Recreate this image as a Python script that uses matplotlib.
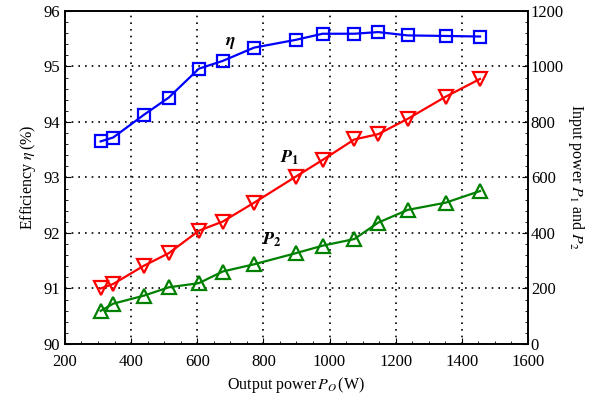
import matplotlib
matplotlib.use('Agg')
import matplotlib.pyplot as plt
from matplotlib.ticker import MultipleLocator

plt.rcParams['font.family'] = ['Liberation Serif', 'DejaVu Serif']
plt.rcParams['mathtext.fontset'] = 'stix'

# output power (W)
p_out = [308, 346, 439, 514, 605, 677, 772, 898, 979, 1075, 1147, 1236, 1351, 1455]
# efficiency (%)
eta = [93.65, 93.72, 94.13, 94.44, 94.96, 95.10, 95.34, 95.48, 95.59, 95.59, 95.62, 95.56, 95.55, 95.54]
# input powers (W)
p1 = [200, 216, 282, 327, 408, 441, 509, 603, 663, 737, 756, 811, 891, 955]
p2 = [119, 145, 174, 204, 219, 261, 287, 327, 354, 378, 437, 483, 509, 551]

fig = plt.figure(figsize=(6.01, 4.07), dpi=100)
ax1 = fig.add_axes([0.108, 0.155, 0.7705, 0.818])
ax2 = ax1.twinx()

ax1.plot(p_out, eta, color='#0000ff', lw=1.6, marker='s', ms=9, mfc='none', mew=1.6)
ax2.plot(p_out, p1, color='#ff0000', lw=1.6, marker='v', ms=10, mfc='none', mew=1.6)
ax2.plot(p_out, p2, color='#008000', lw=1.6, marker='^', ms=10, mfc='none', mew=1.6)

ax1.set_xlim(200, 1600)
ax1.set_ylim(90, 96)
ax2.set_ylim(0, 1200)
ax1.xaxis.set_major_locator(MultipleLocator(200))
ax1.xaxis.set_minor_locator(MultipleLocator(50))
ax1.yaxis.set_major_locator(MultipleLocator(1))
ax1.yaxis.set_minor_locator(MultipleLocator(0.2))
ax2.yaxis.set_major_locator(MultipleLocator(200))
ax2.yaxis.set_minor_locator(MultipleLocator(40))

ax1.grid(True, which='major', color='black', linestyle=(0, (1, 3)), lw=1.2)
ax1.set_axisbelow(True)

for ax in (ax1, ax2):
    ax.tick_params(which='both', direction='in', labelsize=12, color='black')
    ax.tick_params(which='major', length=4)
    ax.tick_params(which='minor', length=2)
    for s in ax.spines.values():
        s.set_linewidth(1.2)
ax1.tick_params(axis='x', pad=7)
ax2.tick_params(axis='y', pad=2)

ax1.set_xlabel('Output power$\\,P_O\\,$(W)', fontsize=11.5)
ax1.set_ylabel('Efficiency $\\eta\\,$(%)', fontsize=11.5)
ax2.set_ylabel('Input power $P_1$ and $P_2$', fontsize=11.5, rotation=270, labelpad=16)

ax1.text(699, 95.44, '$\\mathbfit{\\eta}$', fontsize=13, ha='center', va='center')
ax2.text(880, 670, '$\\mathbfit{P}_\\mathbf{1}$', fontsize=13, ha='center', va='center')
ax2.text(826, 375, '$\\mathbfit{P}_\\mathbf{2}$', fontsize=13, ha='center', va='center')

fig.savefig('out.png', dpi=100)
